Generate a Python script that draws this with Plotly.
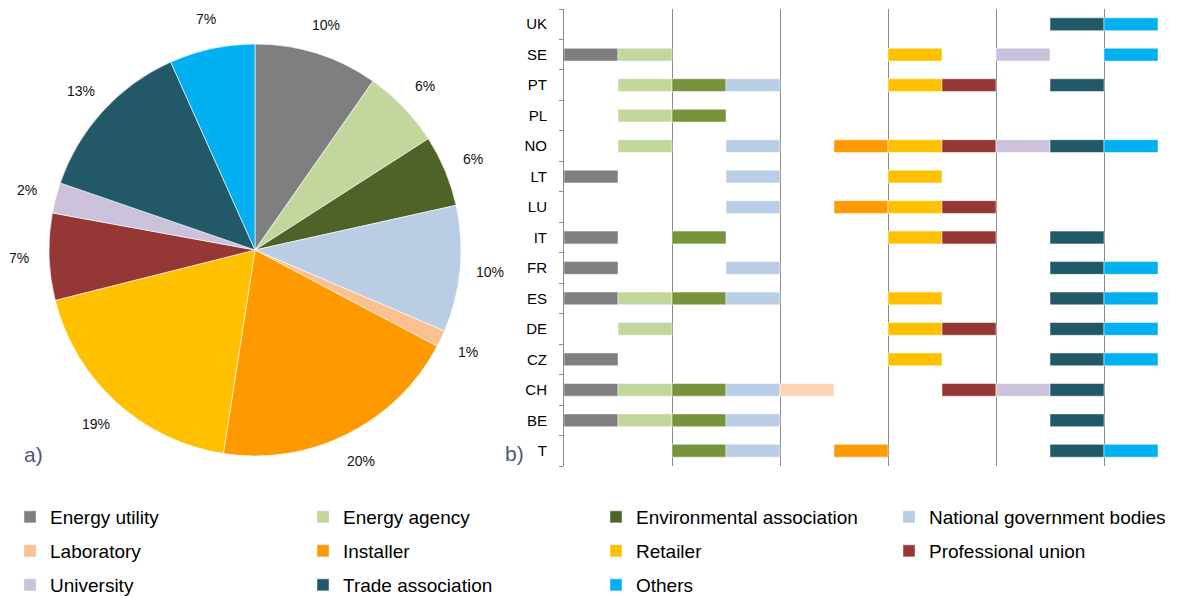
import math
import plotly.graph_objects as go

# the browser page offsets the figure by its 8px body margin; work in reference pixels
OFFX, OFFY = 8, 8
W, H = 1198 - OFFX, 597 - OFFY


def px2x(px):
    return (px - OFFX) / W


def py2y(py):
    return 1 - (py - OFFY) / H


# ---------------- data ----------------
categories = ["Energy utility", "Energy agency", "Environmental association",
              "National government bodies", "Laboratory", "Installer", "Retailer",
              "Professional union", "University", "Trade association", "Others"]
pie_values = [9.7, 6.2, 5.6, 9.9, 1.3, 19.7, 18.6, 6.8, 2.4, 13.0, 6.7]
pie_labels = ["10%", "6%", "6%", "10%", "1%", "20%", "19%", "7%", "2%", "13%", "7%"]

countries = ["T", "BE", "CH", "CZ", "DE", "ES", "FR", "IT", "LU", "LT", "NO", "PL", "PT", "SE", "UK"]

energy_utility = ["SE", "LT", "IT", "FR", "ES", "CZ", "CH", "BE"]
energy_agency = ["SE", "PT", "PL", "NO", "ES", "DE", "CH", "BE"]
environmental_association = ["PT", "PL", "IT", "ES", "CH", "BE", "T"]
national_government = ["PT", "NO", "LT", "LU", "FR", "ES", "CH", "BE", "T"]
laboratory = ["CH"]
installer = ["NO", "LU", "T"]
retailer = ["SE", "PT", "NO", "LT", "LU", "IT", "ES", "DE", "CZ"]
professional_union = ["PT", "NO", "LU", "IT", "DE", "CH"]
university = ["SE", "NO", "CH"]
trade_association = ["UK", "PT", "NO", "IT", "FR", "ES", "DE", "CZ", "CH", "BE", "T"]
others = ["UK", "SE", "NO", "FR", "ES", "DE", "CZ", "T"]

presence = [energy_utility, energy_agency, environmental_association, national_government,
            laboratory, installer, retailer, professional_union, university,
            trade_association, others]

# ---------------- styles ----------------
pie_colors = ["#7F7F7F", "#C3D69B", "#4F6228", "#B9CDE5", "#FAC090", "#FF9900",
              "#FFC000", "#953735", "#CCC1DA", "#215968", "#00B0F0"]
bar_colors = ["#7F7F7F", "#C3D69B", "#77933C", "#B9CDE5", "#FCD5B5", "#FF9A00",
              "#FFC000", "#953735", "#CCC1DA", "#215968", "#00B0F0"]
FONT = "Liberation Sans, Arial, sans-serif"

fig = go.Figure()

# pie (a)
cx, cy, R = 255, 250, 206
fig.add_trace(go.Pie(
    labels=categories, values=pie_values, sort=False, direction="clockwise", rotation=0,
    marker=dict(colors=pie_colors, line=dict(color="white", width=0.6)),
    textinfo="none", showlegend=False, hoverinfo="label+percent",
    domain=dict(x=[px2x(cx - R), px2x(cx + R)], y=[py2y(cy + R), py2y(cy - R)]),
))

annotations = []
total = sum(pie_values)
cum = 0.0
label_r = 236
for v, t in zip(pie_values, pie_labels):
    mid = (cum + v / 2) / total * 2 * math.pi
    cum += v
    lx = cx + label_r * math.sin(mid)
    ly = cy - label_r * math.cos(mid)
    annotations.append(dict(x=px2x(lx), y=py2y(ly), xref="paper", yref="paper", text=t,
                            showarrow=False, xanchor="center", yanchor="middle",
                            font=dict(family=FONT, size=14, color="#111111")))

# presence bars (b)
for k, (name, ctry) in enumerate(zip(categories, presence)):
    fig.add_trace(go.Bar(
        orientation="h", y=ctry, x=[1] * len(ctry), base=[k] * len(ctry),
        width=0.42, marker=dict(color=bar_colors[k], line=dict(color="white", width=0.5)),
        name=name, showlegend=False, hovertemplate=name + ": %{y}<extra></extra>",
        xaxis="x", yaxis="y",
    ))

# legend entries (three rows)
legend_rows = ["legend", "legend", "legend", "legend",
               "legend2", "legend2", "legend2", "legend2",
               "legend3", "legend3", "legend3"]
for k, name in enumerate(categories):
    fig.add_trace(go.Bar(
        x=[None], y=[None], orientation="h", name=name,
        marker=dict(color=pie_colors[k]), showlegend=True, legend=legend_rows[k],
        xaxis="x", yaxis="y", hoverinfo="skip",
    ))

annotations.append(dict(x=px2x(33), y=py2y(455), xref="paper", yref="paper", text="a)",
                        showarrow=False, xanchor="center", yanchor="middle",
                        font=dict(family=FONT, size=21, color="#4A5A75")))
annotations.append(dict(x=px2x(514), y=py2y(453), xref="paper", yref="paper", text="b)",
                        showarrow=False, xanchor="center", yanchor="middle",
                        font=dict(family=FONT, size=21, color="#4A5A75")))


def leg(ypix):
    return dict(orientation="h", x=px2x(10), xanchor="left", y=py2y(ypix), yanchor="middle",
                entrywidth=248, entrywidthmode="pixels", bgcolor="rgba(0,0,0,0)",
                font=dict(family=FONT, size=19, color="#000000"), itemclick=False,
                itemdoubleclick=False)


fig.update_layout(
    width=W, height=H, margin=dict(l=0, r=0, t=0, b=0, autoexpand=False),
    paper_bgcolor="white", plot_bgcolor="white",
    barmode="overlay",
    xaxis=dict(domain=[px2x(564), px2x(1158)], range=[0, 11], dtick=2, tick0=0,
               showgrid=True, gridcolor="#8A8A8A", gridwidth=1, showticklabels=False,
               zeroline=False, showline=False, ticks="", fixedrange=True),
    yaxis=dict(domain=[py2y(466), py2y(9)], type="category",
               categoryorder="array", categoryarray=countries, range=[-0.5, len(countries) - 0.5],
               showline=True, linecolor="#8A8A8A", linewidth=1, ticks="outside",
               tickson="boundaries", ticklen=4, tickcolor="#8A8A8A", showgrid=False,
               ticklabelstandoff=13, tickfont=dict(family=FONT, size=15, color="#000000"),
               fixedrange=True),
    legend=leg(517), legend2=leg(551), legend3=leg(585),
    annotations=annotations,
    hovermode="closest",
)

fig.write_html("out.html")
